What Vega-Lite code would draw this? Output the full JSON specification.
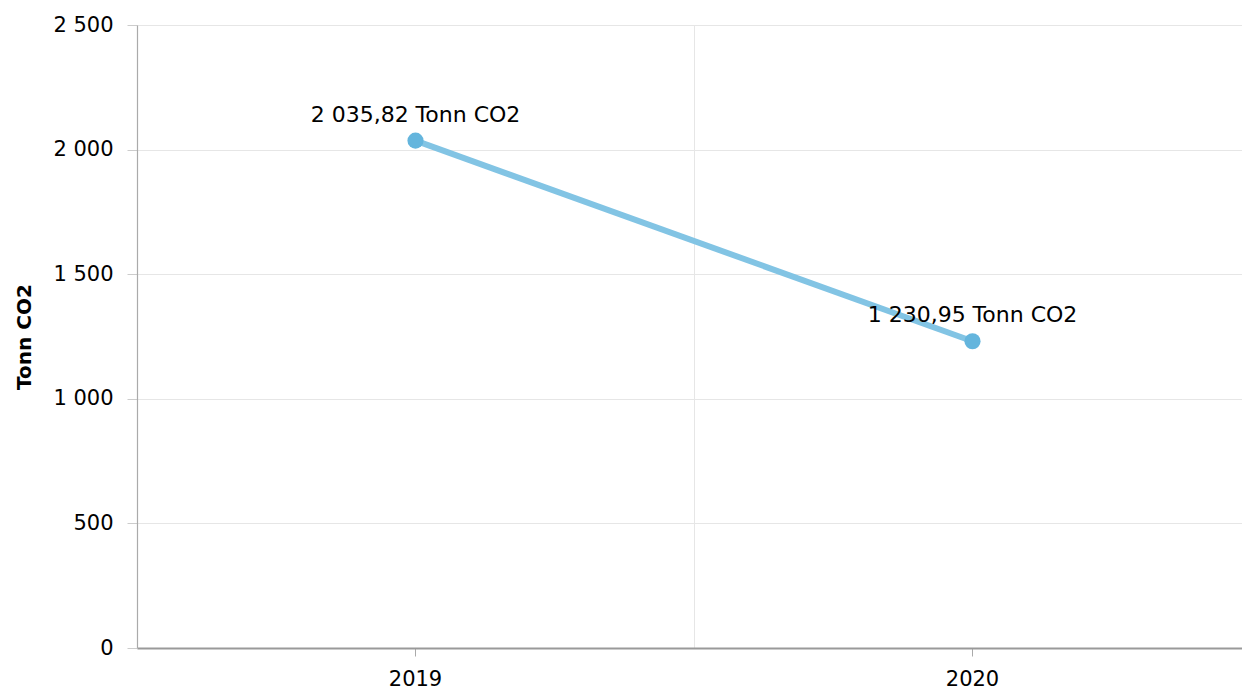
{
  "$schema": "https://vega.github.io/schema/vega-lite/v6.json",
  "autosize": "none",
  "width": 1105,
  "height": 623,
  "padding": {"left": 137, "top": 25, "right": 0, "bottom": 45},
  "background": "white",
  "config": {
    "view": {"stroke": null},
    "font": "DejaVu Sans",
    "locale": {"number": {"decimal": ",", "thousands": " ", "grouping": [3], "currency": ["", ""]}},
    "axis": {"labelFont": "DejaVu Sans", "titleFont": "DejaVu Sans", "labelColor": "#000", "titleColor": "#000"}
  },
  "data": {
    "values": [
      {"year": "2019", "value": 2035.82, "label": "2 035,82 Tonn CO2"},
      {"year": "2020", "value": 1230.95, "label": "1 230,95 Tonn CO2"}
    ]
  },
  "encoding": {
    "y": {
      "field": "value",
      "type": "quantitative",
      "scale": {"domain": [0, 2500], "nice": false, "zero": true},
      "axis": {
        "title": "Tonn CO2",
        "titleFontSize": 20,
        "titleFontWeight": "bold",
        "titlePadding": 18,
        "values": [0, 500, 1000, 1500, 2000, 2500],
        "format": ",d",
        "labelFontSize": 21,
        "labelPadding": 14,
        "tickSize": 10,
        "tickColor": "#cccccc",
        "domainColor": "#aaaaaa",
        "domainWidth": 1.2,
        "gridColor": "#e6e6e6",
        "gridWidth": 1
      }
    }
  },
  "layer": [
    {
      "mark": {"type": "line", "color": "#82c4e4", "strokeWidth": 6},
      "encoding": {
        "x": {
          "field": "year",
          "type": "ordinal",
          "scale": {"type": "band", "range": [0, 1114], "paddingInner": 0, "paddingOuter": 0},
          "axis": {
            "orient": "bottom",
            "title": null,
            "grid": false,
            "labelAngle": 0,
            "labelFontSize": 21,
            "labelPadding": 12,
            "tickSize": 8,
            "tickColor": "#aaaaaa",
            "domainColor": "#999999",
            "domainWidth": 2
          }
        }
      }
    },
    {
      "mark": {"type": "point", "filled": true, "color": "#64b5dd", "size": 260, "opacity": 1},
      "encoding": {
        "x": {"field": "year", "type": "ordinal", "axis": null}
      }
    },
    {
      "mark": {"type": "text", "fontSize": 22, "color": "#000", "dy": -26, "baseline": "middle", "align": "center"},
      "encoding": {
        "x": {
          "field": "year",
          "type": "ordinal",
          "axis": {
            "orient": "bottom",
            "title": null,
            "grid": true,
            "tickBand": "extent",
            "gridColor": "#e6e6e6",
            "gridWidth": 1,
            "labels": false,
            "ticks": false,
            "domain": false
          }
        },
        "text": {"field": "label"}
      }
    }
  ],
  "resolve": {"axis": {"x": "independent"}}
}
